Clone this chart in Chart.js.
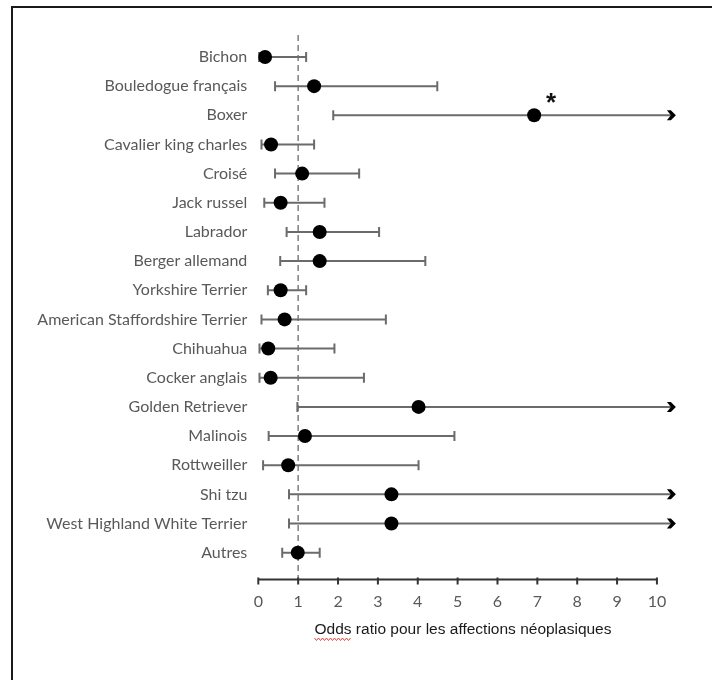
<!DOCTYPE html>
<html lang="fr">
<head>
    <meta charset="UTF-8">
    <title>Odds ratio - affections néoplasiques</title>
    <style>
        body {
            margin: 0;
            background: #fff;
        }

        #wrap {
            position: relative;
            width: 712px;
            height: 680px;
            overflow: hidden;
        }

        #frame {
            position: absolute;
            left: 11px;
            top: 6px;
            width: 720px;
            height: 700px;
            border: 2px solid #1a1a1a;
            pointer-events: none;
        }

        canvas {
            position: absolute;
            left: 0;
            top: 0;
        }
    </style>
    <script src="https://cdn.jsdelivr.net/npm/chart.js"></script>
</head>
<body>
    <div id="wrap">
        <canvas id="orChart" width="712" height="680"></canvas>
        <div id="frame"></div>
    </div>

    <script>
        // races, odds ratio et intervalles de confiance
        const breeds = [
            'Bichon', 'Bouledogue français', 'Boxer', 'Cavalier king charles', 'Croisé',
            'Jack russel', 'Labrador', 'Berger allemand', 'Yorkshire Terrier',
            'American Staffordshire Terrier', 'Chihuahua', 'Cocker anglais', 'Golden Retriever',
            'Malinois', 'Rottweiller', 'Shi tzu', 'West Highland White Terrier', 'Autres'
        ];
        const oddsRatio = [0.17, 1.40, 6.92, 0.32, 1.10, 0.56, 1.54, 1.54, 0.56, 0.66, 0.25, 0.31, 4.02, 1.17, 0.75, 3.34, 3.34, 0.99];
        const ciLow = [0.02, 0.42, 1.88, 0.08, 0.42, 0.15, 0.71, 0.55, 0.24, 0.08, 0.03, 0.03, 0.98, 0.26, 0.12, 0.77, 0.77, 0.60];
        const ciHigh = [1.20, 4.49, 10.45, 1.40, 2.53, 1.66, 3.03, 4.19, 1.20, 3.20, 1.91, 2.65, 10.45, 4.92, 4.02, 10.45, 10.45, 1.54];
        // intervalle qui dépasse l'axe (flèche)
        const openEnded = [false, false, true, false, false, false, false, false, false, false, false, false, true, false, false, true, true, false];
        const significant = ['Boxer'];
        const refLine = 1;
        const xMin = 0, xMax = 10;

        const labelFont = 'Lato, "Liberation Sans", sans-serif';

        const forestPlugin = {
            id: 'forest',
            beforeDatasetsDraw(chart) {
                const ctx = chart.ctx;
                const x = chart.scales.x, y = chart.scales.y;
                const area = chart.chartArea;

                // ligne de référence OR = 1
                ctx.save();
                ctx.strokeStyle = '#7f7f7f';
                ctx.lineWidth = 1.5;
                ctx.setLineDash([6, 4]);
                ctx.beginPath();
                ctx.moveTo(x.getPixelForValue(refLine), area.top);
                ctx.lineTo(x.getPixelForValue(refLine), area.bottom);
                ctx.stroke();
                ctx.restore();

                // intervalles de confiance
                ctx.save();
                ctx.strokeStyle = '#6b6b6b';
                ctx.lineWidth = 2;
                breeds.forEach((b, i) => {
                    const py = y.getPixelForValue(i);
                    const x0 = x.getPixelForValue(ciLow[i]);
                    const x1 = x.getPixelForValue(ciHigh[i]);
                    ctx.beginPath();
                    ctx.moveTo(x0, py);
                    ctx.lineTo(x1 - (openEnded[i] ? 4 : 0), py);
                    ctx.moveTo(x0, py - 5);
                    ctx.lineTo(x0, py + 5);
                    if (!openEnded[i]) {
                        ctx.moveTo(x1, py - 5);
                        ctx.lineTo(x1, py + 5);
                    }
                    ctx.stroke();
                    if (openEnded[i]) {
                        // pointe de flèche en chevron épais
                        ctx.fillStyle = '#000';
                        ctx.beginPath();
                        ctx.moveTo(x1 - 8, py - 5);
                        ctx.lineTo(x1 - 4, py - 5);
                        ctx.lineTo(x1 + 1, py);
                        ctx.lineTo(x1 - 4, py + 5);
                        ctx.lineTo(x1 - 8, py + 5);
                        ctx.lineTo(x1 - 4, py);
                        ctx.closePath();
                        ctx.fill();
                    }
                });
                ctx.restore();
            },
            afterDraw(chart) {
                const ctx = chart.ctx;
                const x = chart.scales.x, y = chart.scales.y;
                const yAxis = chart.chartArea.bottom;

                // axe des x de 0 à 10 avec graduations
                ctx.save();
                ctx.strokeStyle = '#333';
                ctx.lineWidth = 2;
                ctx.beginPath();
                ctx.moveTo(x.getPixelForValue(xMin) - 1, yAxis);
                ctx.lineTo(x.getPixelForValue(xMax) + 1, yAxis);
                for (let v = xMin; v <= xMax; v++) {
                    const px = x.getPixelForValue(v);
                    ctx.moveTo(px, yAxis - 2);
                    ctx.lineTo(px, yAxis + 5);
                }
                ctx.stroke();

                // astérisque
                ctx.fillStyle = '#111';
                ctx.font = 'bold 26px "Liberation Sans", sans-serif';
                ctx.textAlign = 'center';
                ctx.textBaseline = 'middle';
                significant.forEach(name => {
                    const i = breeds.indexOf(name);
                    ctx.fillText('*', x.getPixelForValue(oddsRatio[i]) + 17, y.getPixelForValue(i) - 11);
                });

                // soulignement du correcteur orthographique sous "Odds"
                const title = x.options.title;
                ctx.font = title.font.size + 'px ' + title.font.family;
                const full = ctx.measureText(title.text).width;
                const word = ctx.measureText('Odds').width;
                const startX = (chart.chartArea.left + chart.chartArea.right) / 2 - full / 2;
                const wy = x.bottom - title.padding.bottom - 1;
                ctx.strokeStyle = '#e0403a';
                ctx.lineWidth = 1;
                ctx.beginPath();
                for (let t = 0; t <= word; t += 2) {
                    const yy = wy + ((t / 2) % 2 === 0 ? 0 : 2.5);
                    if (t === 0) ctx.moveTo(startX + t, yy); else ctx.lineTo(startX + t, yy);
                }
                ctx.stroke();
                ctx.restore();
            }
        };

        new Chart(document.getElementById('orChart'), {
            type: 'scatter',
            data: {
                datasets: [{
                    data: breeds.map((b, i) => ({ x: oddsRatio[i], y: i })),
                    backgroundColor: '#000',
                    borderWidth: 0,
                    pointRadius: 7,
                    pointHoverRadius: 7
                }]
            },
            options: {
                responsive: false,
                animation: false,
                layout: { padding: { top: 35, right: 44.3, bottom: 0, left: 0 } },
                plugins: {
                    legend: { display: false },
                    tooltip: { enabled: false }
                },
                scales: {
                    x: {
                        type: 'linear',
                        min: 0,
                        max: 10.27,
                        grid: { display: false, drawTicks: false },
                        border: { display: false },
                        ticks: {
                            stepSize: 1,
                            includeBounds: false,
                            padding: 13,
                            color: '#595959',
                            font: { family: labelFont, size: 16 },
                            callback: v => (v <= xMax ? v : '')
                        },
                        title: {
                            display: true,
                            text: 'Odds ratio pour les affections néoplasiques',
                            color: '#1a1a1a',
                            font: { family: '"Liberation Sans", Arial, sans-serif', size: 15.5 },
                            padding: { top: 0, bottom: 41 }
                        },
                        afterFit: s => { s.height = 100.5; }
                    },
                    y: {
                        type: 'linear',
                        reverse: true,
                        min: -0.754,
                        max: 17.92,
                        grid: { display: false, drawTicks: false },
                        border: { display: false },
                        ticks: {
                            stepSize: 1,
                            autoSkip: false,
                            includeBounds: false,
                            padding: 11,
                            color: '#595959',
                            font: { family: labelFont, size: 16 },
                            callback: v => (Number.isInteger(v) ? breeds[v] : '')
                        },
                        afterFit: s => { s.width = 258.3; }
                    }
                }
            },
            plugins: [forestPlugin]
        });
    </script>
</body>
</html>
